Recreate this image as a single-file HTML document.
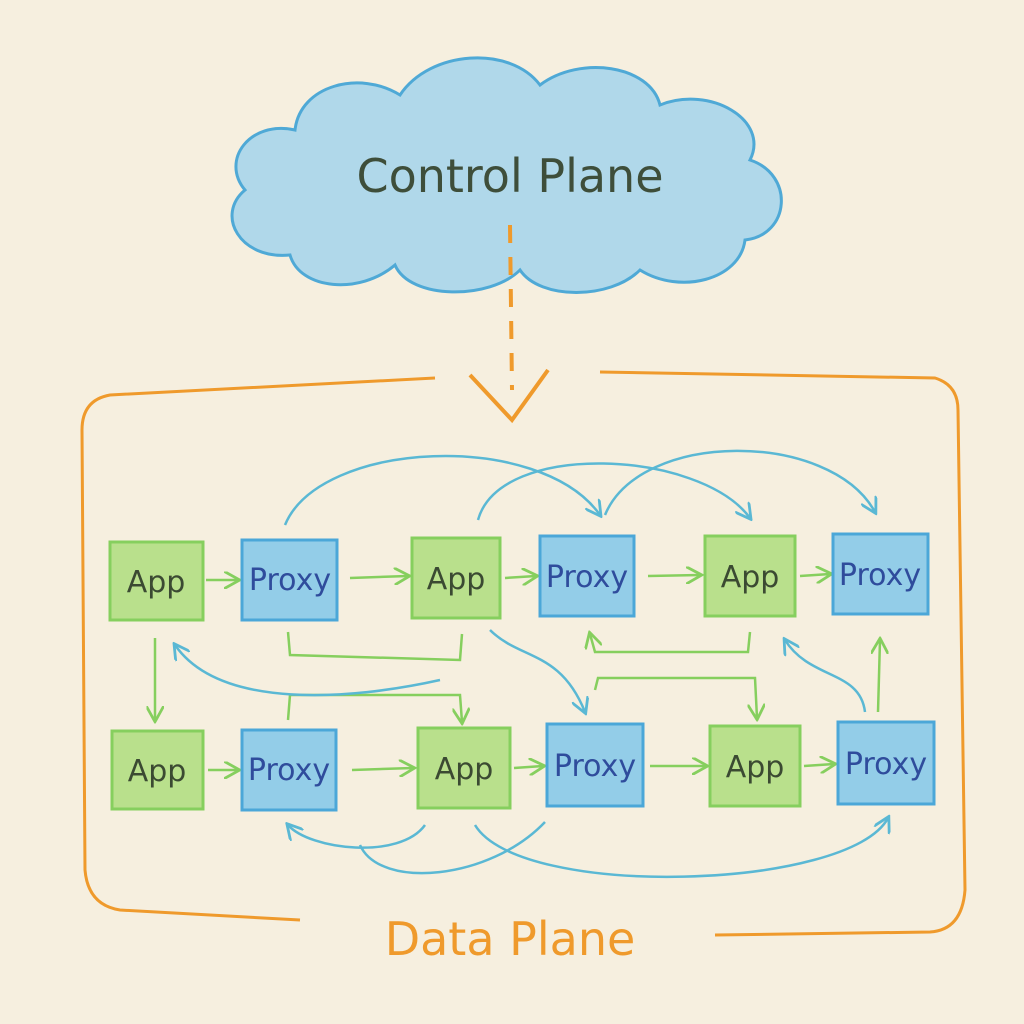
<!DOCTYPE html>
<html><head><style>
html,body{margin:0;padding:0;background:#f6efdf;}
svg{display:block}
text{font-family:"DejaVu Sans","Liberation Sans",sans-serif}
</style></head><body>
<svg width="1024" height="1024" viewBox="0 0 1024 1024" xmlns="http://www.w3.org/2000/svg">
<defs>
<marker id="ga" viewBox="0 0 10 10" refX="8" refY="5" markerWidth="7" markerHeight="7" orient="auto-start-reverse"><path d="M0,0 L9,5 L0,10" fill="none" stroke="#86cf5e" stroke-width="1.6"/></marker>
<marker id="ba" viewBox="0 0 10 10" refX="8" refY="5" markerWidth="7" markerHeight="7" orient="auto-start-reverse"><path d="M0,0 L9,5 L0,10" fill="none" stroke="#5ab8d4" stroke-width="1.6"/></marker>
</defs>
<rect width="1024" height="1024" fill="#f6efdf"/>
<path d="M290,255 C240,260 215,215 245,190 C220,160 250,120 295,130 C300,85 360,70 400,95 C430,50 510,45 540,85 C580,55 650,65 660,105 C710,85 770,120 750,160 C795,175 790,235 745,240 C740,280 680,295 640,270 C610,300 540,300 520,270 C490,300 410,300 395,265 C360,295 300,290 290,255 Z" fill="#b0d8ea" stroke="#4fa9d6" stroke-width="3"/>
<text x="510" y="192" font-size="46" fill="#3e4e3a" text-anchor="middle">Control Plane</text>
<path d="M510,225 L512,390" stroke="#ef9a2c" stroke-width="4" stroke-dasharray="18,14" fill="none"/>
<path d="M470,375 L512,420 L548,370" stroke="#ef9a2c" stroke-width="4" fill="none"/>
<path d="M435,378 L110,395 Q82,400 82,430 L85,870 Q88,905 120,910 L300,920" fill="none" stroke="#ef9a2c" stroke-width="3"/>
<path d="M600,372 L935,378 Q958,385 958,410 L965,890 Q962,930 930,932 L715,935" fill="none" stroke="#ef9a2c" stroke-width="3"/>
<text x="510" y="955" font-size="46" fill="#ef9a2c" text-anchor="middle">Data Plane</text>
<g fill="none" stroke="#86cf5e" stroke-width="2.5" marker-end="url(#ga)">
<path d="M206,580 L238,580"/><path d="M350,578 L408,576"/><path d="M505,578 L536,576"/><path d="M648,576 L700,575"/><path d="M800,576 L830,574"/>
<path d="M208,770 L238,770"/><path d="M352,770 L413,768"/><path d="M514,768 L543,766"/><path d="M650,766 L706,766"/><path d="M804,766 L834,764"/>
<path d="M155,638 L155,720"/>
<path d="M288,720 L290,695 L460,695 L462,722"/>
<path d="M750,632 L748,652 L595,652 L590,634"/>
<path d="M595,690 L598,678 L755,678 L757,718"/>
<path d="M878,712 L880,640"/>
</g>
<path d="M288,632 L290,655 L460,660 L462,634" fill="none" stroke="#86cf5e" stroke-width="2.5"/>
<g fill="none" stroke="#5ab8d4" stroke-width="2.5" marker-end="url(#ba)">
<path d="M285,525 C320,440 540,430 600,515"/>
<path d="M478,520 C500,440 700,450 750,518"/>
<path d="M605,515 C640,430 830,430 875,512"/>
<path d="M440,680 C350,700 220,710 175,645"/>
<path d="M490,630 C520,660 560,650 585,712"/>
<path d="M865,712 C860,670 810,680 785,640"/>
<path d="M425,825 C400,860 310,850 288,825"/>
<path d="M475,825 C520,900 850,890 888,818"/>
</g>
<path d="M545,822 C490,880 380,890 360,845" fill="none" stroke="#5ab8d4" stroke-width="2.5"/>
<g stroke-width="3">
<g fill="#b9e08c" stroke="#86cf5e">
<rect x="110" y="542" width="93" height="78"/><rect x="412" y="538" width="88" height="80"/><rect x="705" y="536" width="90" height="80"/>
<rect x="112" y="731" width="91" height="78"/><rect x="418" y="728" width="92" height="80"/><rect x="710" y="726" width="90" height="80"/>
</g>
<g fill="#93cde8" stroke="#4ba7d8">
<rect x="242" y="540" width="95" height="80"/><rect x="540" y="536" width="94" height="80"/><rect x="833" y="534" width="95" height="80"/>
<rect x="242" y="730" width="94" height="80"/><rect x="547" y="724" width="96" height="82"/><rect x="838" y="722" width="96" height="82"/>
</g>
</g>
<g font-size="30" text-anchor="middle">
<g fill="#3b4a32">
<text x="156" y="592">App</text><text x="456" y="589">App</text><text x="750" y="587">App</text>
<text x="157" y="781">App</text><text x="464" y="779">App</text><text x="755" y="777">App</text>
</g>
<g fill="#2f4c9c">
<text x="290" y="590">Proxy</text><text x="587" y="587">Proxy</text><text x="880" y="585">Proxy</text>
<text x="289" y="780">Proxy</text><text x="595" y="776">Proxy</text><text x="886" y="774">Proxy</text>
</g>
</g>
</svg>
</body></html>
